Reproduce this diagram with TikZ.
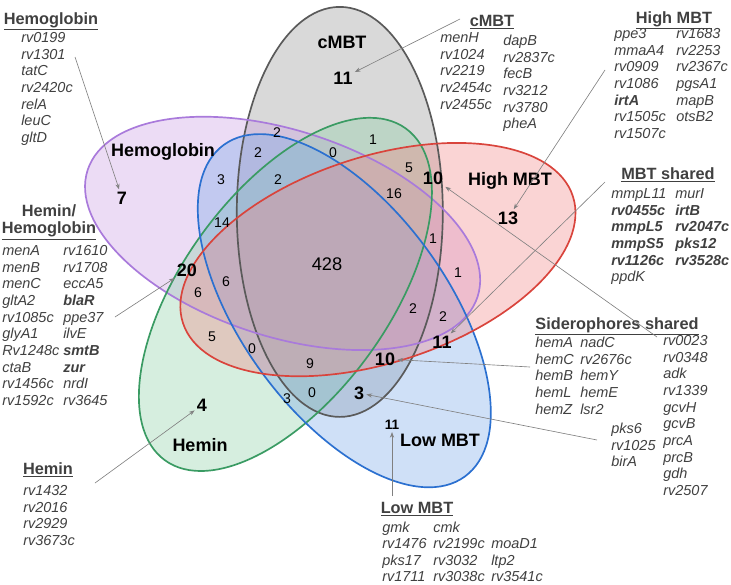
\documentclass[tikz,border=0pt]{standalone}
\usepackage{fontspec}
\setmainfont{Liberation Sans}
\usepackage{tikz}
\usetikzlibrary{arrows.meta}

\definecolor{lcmbt}{HTML}{5A5A5A}
\definecolor{fcmbt}{HTML}{929292}
\definecolor{lhemo}{HTML}{A97ADB}
\definecolor{fhemo}{HTML}{C99BE2}
\definecolor{lhigh}{HTML}{D9443C}
\definecolor{fhigh}{HTML}{F18484}
\definecolor{lhemin}{HTML}{3A9B63}
\definecolor{fhemin}{HTML}{8ACEA4}
\definecolor{llow}{HTML}{2B70D0}
\definecolor{flow}{HTML}{76A6E8}
\definecolor{txtgray}{HTML}{404040}
\definecolor{arrowgray}{HTML}{808080}

\newcommand\genefont{\fontsize{10.3}{11.85}\selectfont\itshape}
\newcommand\headfont{\fontsize{11.6}{12.8}\selectfont\bfseries}
\newcommand\setlabelfont{\fontsize{12.8}{14}\selectfont\bfseries}
\newcommand\numfont{\fontsize{10}{12}\selectfont}
\newcommand\genes[2]{\setlength\tabcolsep{0pt}\begin{tabular}[t]{#1}#2\end{tabular}}

\begin{document}
\begin{tikzpicture}
		[x=0.25mm, y=-0.25mm,
		setlabel/.style={anchor=base, inner sep=0pt, font=\setlabelfont},
		regnum/.style={inner sep=1pt, font=\numfont},
		boldnum/.style={inner sep=1.5pt, font=\setlabelfont},
		header/.style={anchor=base, inner sep=0pt, font=\headfont, text=txtgray},
		genes/.style={anchor=base west, inner sep=0pt, font=\genefont, text=txtgray},
		pointer/.style={draw=arrowgray, line width=0.45pt, -{Stealth[length=4pt,width=3pt]}},
		ring/.style={line width=1.2pt}]
		\useasboundingbox (0,0) rectangle (731,584);

		% the five sets
		\foreach \c/\x/\y/\ang in {cmbt/339.8/211.9/90, hemo/282.6/233.4/162, hemin/285.4/294.4/54, low/344.3/310.7/126, high/377.9/259.6/18}
			\fill[f\c, fill opacity=0.35, shift={(\x,\y)}, rotate=\ang] (0,0) ellipse [x radius=205, y radius=103];
		\foreach \c/\x/\y/\ang in {cmbt/339.8/211.9/90, hemo/282.6/233.4/162, hemin/285.4/294.4/54, low/344.3/310.7/126, high/377.9/259.6/18}
			\draw[ring, l\c, shift={(\x,\y)}, rotate=\ang] (0,0) ellipse [x radius=205, y radius=103];

		\node[setlabel] (lcmbt) at (342,48.5) {cMBT};
		\node[setlabel] (lhemo) at (163,156.5) {Hemoglobin};
		\node[setlabel] (lhigh) at (510,185.5) {High MBT};
		\node[setlabel] (lhemin) at (200,451.5) {Hemin};
		\node[setlabel] (llow) at (440,446.5) {Low MBT};

		% counts
		\foreach \n/\x/\y/\t in {a/277/133/2, b/258/153/2, c/333/153/0, d/373/140/1, e/221/180/3,
				f/278/180/2, g/409/168/5, h/394/194/16, i/222/223/14, j/433/239/1, k/458/273/1,
				l/226/282/6, m/198/293/6, n/413/309/2, o/443/317/2, p/212/337/5, q/252/349/0,
				r/310/364/9, s/287/399/3, t/312/393/0}
			\node[regnum] (c\n) at (\x,\y) {\t};
		\node[regnum, font=\fontsize{13}{15}\selectfont] (call) at (327,264) {428};

		\node[boldnum] (n7) at (122,198) {7};
		\node[boldnum] (n11c) at (343,78) {11};
		\node[boldnum] (n10a) at (433,178) {10};
		\node[boldnum] (n13) at (508,218) {13};
		\node[boldnum] (n20) at (187,270) {20};
		\node[boldnum] (n11r) at (442,342) {11};
		\node[boldnum] (n10b) at (385,359) {10};
		\node[boldnum] (n3) at (359,393) {3};
		\node[boldnum] (n4) at (202,405) {4};
		\node[boldnum, font=\fontsize{9.7}{11}\selectfont\bfseries] (n11s) at (392,425) {11};

		% gene lists
		\node[header] (hhemo) at (51,24) {\underline{Hemoglobin}};
		\node[genes] (ghemo) at (21,42.4) {\genes{l}{rv0199\\ rv1301\\ tatC\\ rv2420c\\ relA\\ leuC\\ gltD}};

		\node[header] (hcmbt) at (492,26) {\underline{cMBT}};
		\node[genes] (gcmbta) at (440,42.4) {\genes{l}{menH\\ rv1024\\ rv2219\\ rv2454c\\ rv2455c}};
		\node[genes] (gcmbtb) at (503,45.4) {\genes{l}{dapB\\ rv2837c\\ fecB\\ rv3212\\ rv3780\\ pheA}};

		\node[header] (hhigh) at (674,23) {\underline{High MBT}};
		\node[genes] (ghigh) at (614,38.4) {\genes{p{15.5mm}l}{ppe3 & rv1683\\ mmaA4 & rv2253\\ rv0909 & rv2367c\\
				rv1086 & pgsA1\\ \textbf{irtA} & mapB\\ rv1505c & otsB2\\ rv1507c &}};

		\node[header] (hshared) at (668,179) {\underline{MBT shared}};
		\node[genes] (gshared) at (611,198.4) {\genes{p{16mm}l}{mmpL11 & murI\\ \textbf{rv0455c} & \textbf{irtB}\\
				\textbf{mmpL5} & \textbf{rv2047c}\\ \textbf{mmpS5} & \textbf{pks12}\\ \textbf{rv1126c} & \textbf{rv3528c}\\ ppdK &}};

		\node[header] (hsid) at (617,329) {\underline{Siderophores shared}};
		\node[genes] (gsida) at (535,347.4) {\genes{p{11.25mm}l}{hemA & nadC\\ hemC & rv2676c\\ hemB & hemY\\
				hemL & hemE\\ hemZ & lsr2}};
		\node[genes] (gsidb) at (663,345.4) {\genes{l}{rv0023\\ rv0348\\ adk\\ rv1339\\ gcvH\\ gcvB\\ prcA\\ prcB\\ gdh\\ rv2507}};
		\node[genes] (gsidc) at (611,433.4) {\genes{l}{pks6\\ rv1025\\ birA}};

		\node[header] (hlow) at (417,513) {\underline{Low MBT}};
		\node[genes] (glow) at (382,532) {\genes{p{12.75mm}p{14.5mm}l}{gmk & cmk &\\ rv1476 & rv2199c & moaD1\\
				pks17 & rv3032 & ltp2\\ rv1711 & rv3038c & rv3541c}};

		\node[header] (hboth) at (49,216) {\begin{tabular}[t]{@{}c@{}}Hemin/\\ \underline{Hemoglobin}\end{tabular}};
		\node[genes] (gboth) at (2,255.4) {\genes{p{15.25mm}l}{menA & rv1610\\ menB & rv1708\\ menC & eccA5\\
				gltA2 & \textbf{blaR}\\ rv1085c & ppe37\\ glyA1 & ilvE\\ Rv1248c & \textbf{smtB}\\ ctaB & \textbf{zur}\\
				rv1456c & nrdI\\ rv1592c & rv3645}};

		\node[header] (hhemin) at (48,474) {\underline{Hemin}};
		\node[genes] (ghemin) at (23,495.4) {\genes{l}{rv1432\\ rv2016\\ rv2929\\ rv3673c}};

		% pointers
		\coordinate (s1) at (75,57);
		\coordinate (s2) at (460,19);
		\coordinate (s3) at (605,70);
		\coordinate (s4) at (605,182);
		\coordinate (s5) at (657,337);
		\coordinate (s6) at (530,367);
		\coordinate (s7) at (597,440);
		\coordinate (s8) at (392,496);
		\coordinate (s9) at (115,317);
		\coordinate (s10) at (95,483);
		\draw[pointer] (s1) -- (n7);
		\draw[pointer] (s2) -- (n11c);
		\draw[pointer] (s3) -- (n13);
		\draw[pointer] (s4) -- (n11r);
		\draw[pointer] (s5) -- (n10a);
		\draw[pointer] (s6) -- (n10b);
		\draw[pointer] (s7) -- (n3);
		\draw[pointer] (s8) -- (n11s);
		\draw[pointer] (s9) -- (n20);
		\draw[pointer] (s10) -- (n4);
	\end{tikzpicture}
\end{document}
